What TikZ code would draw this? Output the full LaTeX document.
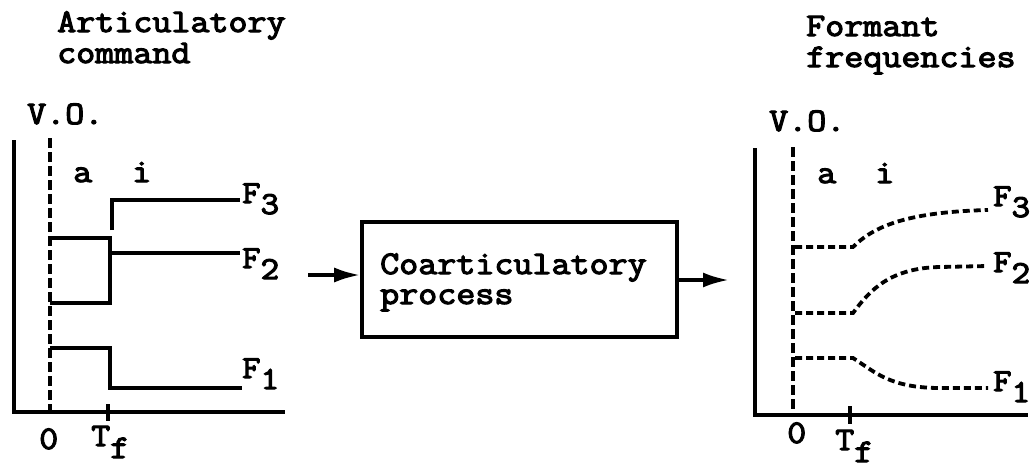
\documentclass[tikz,border=0pt]{standalone}
\usepackage{fontspec}
\setmonofont{Latin Modern Mono}[FakeStretch=1.12,FakeBold=3.5]
\usetikzlibrary{arrows.meta}
\begin{document}
\begin{tikzpicture}[x=1pt,y=-1pt,
  txt/.style={inner sep=0pt,anchor=base west,font=\fontsize{33}{30}\selectfont\ttfamily},
  lbl/.style={inner sep=0pt,anchor=base west,font=\fontsize{32}{30}\selectfont\ttfamily},
  axisline/.style={line width=4pt},
  cmdline/.style={line width=3.4pt},
  vodash/.style={line width=3.4pt,dash pattern=on 10pt off 4pt},
  fmtline/.style={line width=3.8pt,dash pattern=on 7pt off 4pt},
  flow/.style={line width=3.6pt,-{Latex[length=26pt,width=15pt]}},
  procbox/.style={draw,line width=3.6pt,minimum width=315pt,minimum height=115pt,inner sep=0pt}]
\useasboundingbox (0,0) rectangle (1034,469);
% titles
\node[txt] (t1) at (57,32) {Articulatory};
\node[txt] (t2) at (57,63) {command};
\node[txt] (t3) at (806,36) {Formant};
\node[txt] (t4) at (806,67) {frequencies};
% ---------- left plot
\coordinate (Ltop) at (14,140);
\coordinate (Lorg) at (14,412);
\coordinate (Lend) at (285,412);
\draw[axisline] (Ltop) -- (Lorg) -- (Lend);
\coordinate (Lvt) at (50,138);
\coordinate (Lvb) at (50,412);
\draw[vodash] (Lvt) -- (Lvb);
\coordinate (Ltk1) at (108,404);
\coordinate (Ltk2) at (108,421);
\draw[axisline] (Ltk1) -- (Ltk2);
\draw[cmdline] (112,230) -- (112,200) -- (240,200);
\draw[cmdline] (50,238) -- (110,238) -- (110,253) -- (240,253);
\draw[cmdline] (50,303) -- (110,303) -- (110,253);
\draw[cmdline] (50,348) -- (110,348) -- (110,388) -- (242,388);
\node[txt] (lvo) at (27,124) {V.O.};
\node[txt] (la) at (73,182) {a};
\node[txt] (li) at (132,182) {i};
\node[lbl] (lf3) at (242,203) {F\raisebox{-11pt}{3}};
\node[lbl] (lf2) at (242,268) {F\raisebox{-11pt}{2}};
\node[lbl] (lf1) at (242,378) {F\raisebox{-11pt}{1}};
\node[txt] (l0) at (39,449) {0};
\node[txt] (lT) at (91,446) {T\raisebox{-12pt}{f}};
% ---------- process box
\node[procbox] (box) at (519.5,279.5) {};
\node[txt] (bt1) at (380,274) {Coarticulatory};
\node[txt] (bt2) at (380,304) {process};
\coordinate (ain) at (308,275);
\draw[flow] (ain) -- (ain -| box.west);
\coordinate (aout) at (729,280);
\draw[flow] (aout -| box.east) -- (aout);
% ---------- right plot
\coordinate (Rtop) at (755,148);
\coordinate (Rorg) at (755,415);
\coordinate (Rend) at (1028,415);
\draw[axisline] (Rtop) -- (Rorg) -- (Rend);
\coordinate (Rvt) at (793,147);
\coordinate (Rvb) at (793,410);
\draw[vodash] (Rvt) -- (Rvb);
\coordinate (Rtk1) at (850,406);
\coordinate (Rtk2) at (850,424);
\draw[axisline] (Rtk1) -- (Rtk2);
\draw[fmtline] (795,247) -- (853,247) .. controls (875,225) and (910,212) .. (988,210);
\draw[fmtline] (795,313) -- (853,313) .. controls (870,290) and (890,268) .. (940,267) -- (988,266);
\draw[fmtline] (795,358) -- (853,358) .. controls (875,372) and (890,388) .. (940,388) -- (988,388);
\node[txt] (rvo) at (769,131) {V.O.};
\node[txt] (ra) at (817,183) {a};
\node[txt] (ri) at (875,183) {i};
\node[lbl] (rf3) at (993,206) {F\raisebox{-11pt}{3}};
\node[lbl] (rf2) at (993,272) {F\raisebox{-11pt}{2}};
\node[lbl] (rf1) at (993,391) {F\raisebox{-11pt}{1}};
\node[txt] (r0) at (787,443) {0};
\node[txt] (rT) at (835,450) {T\raisebox{-12pt}{f}};
\end{tikzpicture}
\end{document}
